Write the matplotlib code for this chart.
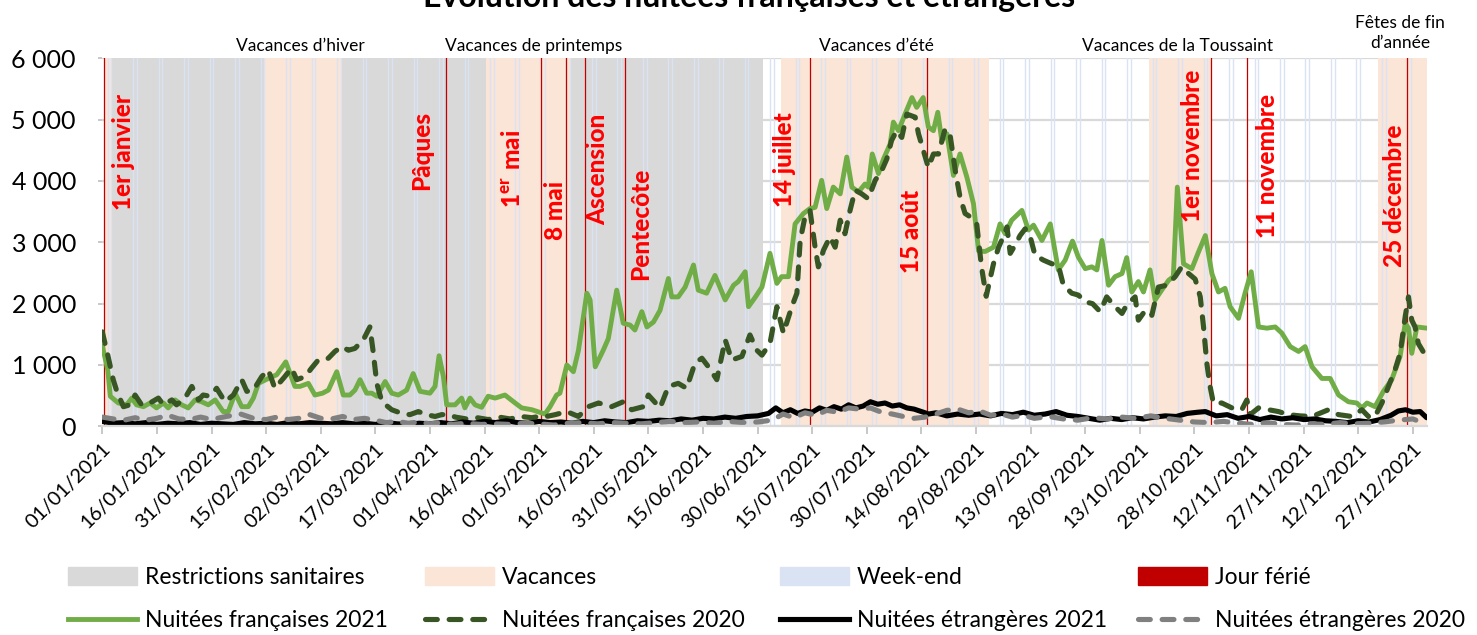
import matplotlib
matplotlib.use('Agg')
import matplotlib.pyplot as plt
import pandas as pd
from matplotlib.patches import Patch
from matplotlib.lines import Line2D

plt.rcParams['font.family'] = ['Lato', 'DejaVu Sans']
plt.rcParams['mathtext.fontset'] = 'custom'
plt.rcParams['mathtext.rm'] = 'Lato'
plt.rcParams['mathtext.bf'] = 'Lato:black'

# ---------------- data (day index from 01/01/2021, value) ----------------
fr21_day = [0, 1.5, 2.2, 4.4, 6.7, 8.1, 9.4, 11.3, 13.1, 14.9, 16.8, 18.1, 20, 21.8, 23.6, 25.5, 27.3, 29.1,
            31, 33.2, 34.6, 36.5, 38.3, 40.1, 41.5, 42.9, 45.6, 47.9, 50.4, 52.9, 54.3, 56.6, 58.4, 60.5,
            62.1, 64.4, 66.2, 68, 69.4, 70.8, 72.6, 74, 75.4, 77.7, 79.5, 81.3, 83.6, 85.4, 87.3, 90, 91.4,
            92.5, 93.7, 94.6, 96.9, 98.7, 99.6, 101, 102.4, 104.2, 106, 107.9, 110.6, 113.4, 115.2, 118,
            121.6, 123, 124.8, 125.7, 127.6, 129.4, 130.8, 133.1, 134, 135.4, 137.6, 139, 141.3, 143.1,
            145, 146.3, 148.2, 149.6, 151.4, 153.2, 155.5, 156.4, 158.2, 160.1, 162.4, 163.7, 166, 168.3,
            171.1, 173.4, 174.7, 176.6, 177.5, 179.3, 181.2, 183.4, 185.3, 186.6, 188.5, 190.3, 192.6,
            194.4, 195.8, 197.6, 199, 200.8, 202.7, 204.5, 205.9, 207.7, 209.5, 210.4, 211.5, 213.2,
            214.6, 216.4, 217.3, 218.7, 220.5, 222.4, 223.7, 225.5, 226.9, 228.3, 229.5, 230.6, 232,
            233.8, 235.6, 237.5, 239.3, 240.7, 242.5, 244.8, 246.6, 248, 249.8, 252.6, 254.4, 255.8,
            258.1, 260.4, 262.6, 264.5, 266.5, 268.1, 270, 271.8, 273.2, 274.6, 276.4, 278.2, 280.1,
            281.4, 282.8, 284.6, 286, 287.8, 289.2, 291, 292.9, 294.2, 295.3, 297, 299.3, 301.1, 303,
            304.8, 306.6, 308.4, 309.8, 312.1, 313.9, 315.6, 317.6, 319.9, 322.2, 324, 326.3, 328.6,
            330.4, 332.3, 335, 337.3, 339.6, 342.3, 344.6, 346, 347.4, 349.6, 351.9, 354.2, 356.5,
            357.9, 358.8, 359.7, 361.1, 363.8]
fr21_val = [1310, 920, 490, 380, 350, 460, 350, 320, 380, 300, 380, 300, 430, 350, 300, 430, 400, 350,
            430, 240, 240, 540, 320, 320, 460, 700, 780, 840, 1050, 650, 650, 700, 510, 540,
            590, 890, 510, 510, 590, 760, 540, 540, 490, 730, 540, 510, 590, 860, 570, 540, 650,
            1150, 810, 350, 350, 460, 300, 460, 350, 310, 490, 460, 510, 380, 300, 270,
            200, 320, 510, 540, 1000, 890, 1240, 2170, 2060, 970, 1240, 1430, 2220, 1680,
            1650, 1570, 1870, 1620, 1700, 1890, 2410, 2110, 2110, 2270, 2630, 2220, 2170, 2460,
            2060, 2300, 2360, 2520, 1950, 2100, 2270, 2820, 2330, 2440, 2440, 3300, 3470,
            3550, 3570, 4010, 3550, 3900, 3790, 4390, 3900, 3820, 3950, 3900, 4440, 4120,
            4360, 4600, 4960, 4820, 5090, 5360, 5200, 5360, 4880, 4820, 5120, 4660, 4770,
            4090, 4440, 4060, 3630, 2860, 2850, 2920, 3300, 3140, 3360, 3520, 3200, 3280,
            3030, 3300, 2550, 2710, 3020, 2760, 2570, 2600, 2550, 3030, 2300, 2440, 2490,
            2750, 2190, 2360, 2190, 2550, 2060, 2220, 2380, 2440, 3900, 2650, 2570, 2840, 3110,
            2490, 2190, 2250, 1950, 1760, 2170, 2520, 1620, 1600, 1620, 1520, 1300, 1220,
            1300, 970, 780, 780, 510, 400, 380, 300, 380, 320, 570, 760, 1140,
            1680, 1600, 1190, 1620, 1600]

fr20_day = [0, 1.6, 3, 4, 5.8, 7.6, 9, 10.8, 13.1, 15.4, 16.8, 19.1, 20.4, 22.7, 24.6, 26.4, 27.7, 29.6,
            31.4, 33.7, 36, 38.3, 39.7, 41.5, 43.8, 45.6, 47.4, 50, 52, 53.4, 55.7, 57.5, 59.3, 60.3,
            62.1, 63.9, 65.8, 67.6, 69.4, 71.7, 73.5, 74.4, 75.4, 76.8, 79.5, 82.3, 84.5, 86.8, 89.1,
            91.4, 93.2, 95.1, 97, 100, 103, 106, 109, 112, 115, 118, 119.8, 122, 124.4, 127.6, 130.8,
            133.5, 136.3, 139.9, 143.1, 145.4, 148.6, 150, 153.2, 155.5, 158.2, 160.5, 162.8, 164.7,
            166.5, 168.8, 171.1, 172.9, 175.7, 177.9, 179.8, 181.2, 183.4, 185.3, 187.1, 189.4, 190.8,
            191.7, 193, 194.4, 195.8, 196.7, 198.1, 199.9, 201.3, 202.7, 204, 205.4, 206.8, 208.6,
            210.4, 212.3, 214.1, 215.5, 216.8, 218.2, 219.6, 221, 223.3, 224.2, 226.9, 228.3, 229.7,
            231.5, 232.9, 234.3, 235.6, 237, 238.8, 240.2, 241.5, 242.8, 244.8, 246.2, 247.5, 248.5,
            249.4, 250.7, 252.1, 253.5, 254.9, 256.2, 258.5, 260.8, 262.6, 264, 266.3, 268.1, 270,
            272, 274.1, 275.9, 278.2, 280.1, 281.4, 283.7, 284.6, 286.5, 288.3, 290.1, 292.4, 294.7,
            296.5, 298.4, 300.2, 301.6, 302.5, 303.4, 304.3, 305.2, 307.5, 310.3, 313, 314.4, 315.3,
            317.6, 320.3, 323.1, 325.8, 329, 332.3, 336.8, 339.6, 343.2, 346, 347.8, 349.5, 351.5,
            353.3, 355.1, 356.5, 357.9, 358.8, 359.7, 360.6, 361.5, 363.8]
fr20_val = [1540, 1135, 760, 570, 320, 350, 510, 350, 380, 460, 350, 430, 350, 460, 650, 430, 510, 490,
            620, 400, 510, 760, 570, 590, 810, 920, 620, 800, 950, 760, 810, 950, 1080, 1080,
            1110, 1220, 1300, 1240, 1270, 1410, 1620, 1220, 700, 400, 270, 210, 190, 240, 190,
            160, 190, 190, 150, 120, 140, 110, 150, 120, 160, 140, 160, 160, 190, 240, 160,
            320, 380, 320, 400, 270, 320, 510, 300, 650, 700, 620, 1030, 1110,
            970, 760, 1410, 1080, 1140, 1490, 1240, 1160, 1350, 1950, 1520, 1950, 2170,
            3030, 3410, 3520, 2920, 2600, 2870, 3090, 2920, 3360, 3140, 3520, 3850, 3790,
            3710, 4010, 4170, 4360, 4660, 4820, 4710, 5090, 5040, 4770, 4220, 4440, 4440,
            4850, 4740, 4170, 3740, 3470, 3400, 3300, 2600, 2120, 2650, 2920, 3090, 3250,
            2820, 2950, 3110, 3220, 3090, 2790, 2710, 2650, 2630, 2300, 2170, 2140, 2030,
            2000, 1870, 2110, 1950, 1840, 1980, 2110, 1730, 1890, 1810, 2270, 2300, 2440,
            2600, 2490, 2400, 2110, 1620, 1030, 650, 380, 380, 300, 270, 430, 190,
            300, 270, 240, 190, 170, 160, 270, 190, 160, 270, 160, 150, 380,
            650, 920, 1190, 1790, 2110, 1730, 1620, 1350, 1120]

et21_day = [0, 3, 6, 9, 12, 15, 18, 21, 24, 27, 30, 33, 36, 39, 42, 45, 48, 51, 54, 57, 60, 63, 66, 69,
            72, 75, 78, 81, 84, 87, 90, 93, 96, 99, 102, 105, 108, 111, 114, 117, 120, 123, 126, 129,
            132, 135, 138, 141, 144, 147, 150, 153, 156, 159, 162, 165, 168, 171, 174, 177, 180, 183,
            185, 187, 189, 191, 193, 195, 197, 199, 201, 203, 205, 207, 209, 211, 213, 215, 217, 219,
            221, 223, 225, 227, 229, 232, 235, 238, 241, 244, 247, 250, 253, 256, 259, 262, 265, 268,
            271, 274, 277, 280, 283, 286, 289, 292, 295, 298, 301, 303, 306, 309, 312, 315, 318, 321,
            324, 327, 330, 333, 336, 339, 342, 345, 348, 351, 354, 356, 358, 360, 362, 363.8]
et21_val = [80, 50, 60, 40, 60, 30, 50, 40, 60, 30, 50, 40, 30, 60, 40, 50, 30, 60, 40, 60, 50, 40, 60, 40,
            50, 30, 60, 40, 30, 50, 40, 60, 40, 70, 50, 80, 60, 90, 60, 50, 80, 60, 70, 50,
            80, 60, 90, 70, 60, 90, 80, 100, 90, 120, 100, 130, 120, 150, 130, 160, 170, 210,
            300, 220, 270, 210, 250, 230, 300, 260, 320, 280, 350, 300, 330, 400, 360, 380, 330, 350,
            300, 280, 240, 200, 220, 170, 200, 180, 200, 170, 210, 190, 230, 180, 200, 240, 180, 160,
            130, 100, 130, 110, 140, 120, 150, 170, 160, 210, 230, 240, 170, 190, 130, 160, 110, 150,
            120, 140, 110, 120, 90, 80, 60, 90, 70, 110, 180, 250, 270, 230, 240, 140]

et20_day = [0, 3, 6, 9, 12, 15, 18, 21, 24, 27, 30, 34, 38, 42, 45, 48, 51, 54, 57, 60, 63, 66, 69, 72,
            75, 78, 81, 84, 87, 90, 93, 96, 100, 104, 108, 112, 116, 120, 124, 128, 132, 136, 140, 144,
            148, 152, 156, 160, 164, 168, 172, 176, 180, 184, 187, 190, 193, 196, 199, 202, 205, 208,
            211, 214, 217, 220, 223, 226, 229, 232, 235, 238, 241, 244, 247, 250, 253, 256, 260, 264,
            268, 272, 276, 280, 284, 288, 292, 296, 300, 304, 308, 312, 316, 320, 324, 328, 332, 336,
            340, 344, 348, 352, 356, 360, 363.8]
et20_val = [150, 120, 100, 140, 100, 130, 180, 120, 110, 150, 110, 160, 200, 120, 110, 150, 110, 130, 190,
            130, 120, 160, 110, 130, 100, 60, 80, 50, 70, 40, 60, 30, 50, 30, 40, 30, 50, 40, 20, 50,
            60, 40, 60, 50, 40, 60, 80, 60, 70, 50, 80, 60, 70, 100, 200, 140, 220, 180, 260, 230,
            300, 280, 300, 230, 200, 160, 130, 150, 200, 260, 280, 220, 250, 180, 200, 150, 180, 130,
            160, 120, 100, 140, 120, 150, 130, 170, 130, 100, 70, 60, 80, 50, 30, 60, 30, 20, 40, 30,
            60, 40, 50, 70, 100, 120, 30]

tick_labels = ['01/01/2021', '16/01/2021', '31/01/2021', '15/02/2021', '02/03/2021', '17/03/2021',
               '01/04/2021', '16/04/2021', '01/05/2021', '16/05/2021', '31/05/2021', '15/06/2021',
               '30/06/2021', '15/07/2021', '30/07/2021', '14/08/2021', '29/08/2021', '13/09/2021',
               '28/09/2021', '13/10/2021', '28/10/2021', '12/11/2021', '27/11/2021', '12/12/2021',
               '27/12/2021']
y_labels = ['0', '1 000', '2 000', '3 000', '4 000', '5 000', '6 000']

restrictions = [('2021-01-03', '2021-07-01')]
vacances = [('2021-01-01', '2021-01-03'), ('2021-02-14', '2021-03-07'), ('2021-04-16', '2021-05-09'),
            ('2021-07-06', '2021-09-01'), ('2021-10-15', '2021-11-01'), ('2021-12-17', '2021-12-31')]
feries = ['2021-01-01', '2021-04-05', '2021-05-01', '2021-05-08', '2021-05-13', '2021-05-24',
          '2021-07-14', '2021-08-15', '2021-11-01', '2021-11-11', '2021-12-25']
ferie_labels = ['1er janvier', 'Pâques', r'$\mathbf{1^{er}\ mai}$', '8 mai', 'Ascension', 'Pentecôte',
                '14 juillet', '15 août', '1er novembre', '11 novembre', '25 décembre']
# label placement (x in days, bottom y in data units)
ferie_lab_x = [5.9, 87.6, 112.8, 124.6, 136.2, 148.0, 187.3, 222.2, 299.6, 320.2, 354.9]
ferie_lab_y = [3520, 3846, 3553, 3033, 3276, 2382, 3569, 2496, 3325, 3065, 2593]

C_RESTR = '#d9d9d9'
C_VAC = '#fbe5d6'
C_WE = '#dae3f3'
C_JF = '#c00000'
C_FR21 = '#70ad47'
C_FR20 = '#375623'
C_ET21 = '#000000'
C_ET20 = '#808080'
DASH = (2.3, 2.3)

start = pd.Timestamp('2021-01-01')
def doy(s):
    return (pd.Timestamp(s) - start).days

W, H = 1477, 635
fig = plt.figure(figsize=(W / 100, H / 100), dpi=100)
ax = fig.add_axes([102.3 / W, 1 - 426.3 / H, (1426.7 - 102.3) / W, 368.0 / H])
ax.set_xlim(0, 363.8)
ax.set_ylim(0, 6000)

# grid
ax.set_axisbelow(True)
ax.set_yticks(range(0, 6001, 1000))
ax.set_yticklabels(y_labels)
ax.yaxis.grid(True, color='#d9d9d9', lw=1.6)

# bands
for s, e in restrictions:
    ax.axvspan(doy(s) + 0.5, doy(e) + 0.5, color=C_RESTR, lw=0, zorder=1)
for s, e in vacances:
    ax.axvspan(doy(s) + 0.5, doy(e) + 0.5, color=C_VAC, lw=0, zorder=1.1)
for d in pd.date_range('2021-01-01', '2021-12-31'):
    if d.dayofweek >= 5:
        ax.axvline((d - start).days + 0.5, color=C_WE, lw=1.0, zorder=2)
for f in feries:
    ax.axvline(doy(f) + 0.5, color=C_JF, lw=0.9, zorder=3)

# series
ax.plot(fr21_day, fr21_val, color=C_FR21, lw=3.5, solid_joinstyle='round', solid_capstyle='round', zorder=4)
ax.plot(fr20_day, fr20_val, color=C_FR20, lw=3.7, dashes=DASH, dash_capstyle='round',
        dash_joinstyle='round', zorder=5)
ax.plot(et21_day, et21_val, color=C_ET21, lw=3.7, solid_joinstyle='round', solid_capstyle='round', zorder=6)
ax.plot(et20_day, et20_val, color=C_ET20, lw=3.7, dashes=DASH, dash_capstyle='round',
        dash_joinstyle='round', zorder=7)

for lab, x, y in zip(ferie_labels, ferie_lab_x, ferie_lab_y):
    ax.text(x, y, lab, rotation=90, ha='center', va='bottom', color='#ff0000', fontsize=17.5,
            fontweight='black', zorder=9)

# axes styling
for sp in ['top', 'right', 'left']:
    ax.spines[sp].set_visible(False)
ax.spines['bottom'].set_color('#d9d9d9')
ax.spines['bottom'].set_linewidth(1.6)
ax.spines['bottom'].set_zorder(8)
ax.set_xticks(range(0, 361, 15))
ax.set_xticklabels(tick_labels, rotation=45, ha='right', rotation_mode='anchor', fontsize=14.5)
ax.tick_params(axis='x', length=6, width=1.2, color='#bfbfbf', pad=4)
ax.tick_params(axis='y', length=3, width=1.2, color='#bfbfbf', pad=16, labelsize=18)

# top annotations
tops = [('Vacances d’hiver', 300, 46), ('Vacances de printemps', 534, 46), ('Vacances d’été', 876, 46),
        ('Vacances de la Toussaint', 1177, 46), ('Fêtes de fin\nd’année', 1400, 33)]
for t, x, y in tops:
    fig.text(x / W, 1 - y / H, t, ha='center', va='center', fontsize=12.5, linespacing=1.3)

fig.text(749 / W, 1 - 7 / H, 'Évolution des nuitées françaises et étrangères', ha='center',
         va='baseline', fontsize=23, fontweight='bold')

# legend: four columns of two entries each
leg_cols = [
    (68, [Patch(color=C_RESTR), Line2D([], [], color=C_FR21, lw=3.5)],
     ['Restrictions sanitaires', 'Nuitées françaises 2021']),
    (425, [Patch(color=C_VAC), Line2D([], [], color=C_FR20, lw=3.7, dashes=DASH, dash_capstyle='round')],
     ['Vacances', 'Nuitées françaises 2020']),
    (780, [Patch(color=C_WE), Line2D([], [], color=C_ET21, lw=3.7)],
     ['Week-end', 'Nuitées étrangères 2021']),
    (1138, [Patch(color=C_JF), Line2D([], [], color=C_ET20, lw=3.7, dashes=DASH, dash_capstyle='round')],
     ['Jour férié', 'Nuitées étrangères 2020']),
]
for x, hs, ls in leg_cols:
    fig.legend(hs, ls, loc='upper left', bbox_to_anchor=(x / W, 1 - 567 / H), ncol=1,
               frameon=False, borderpad=0, borderaxespad=0, handlelength=3.0, handleheight=0.8,
               handletextpad=0.35, labelspacing=0.98, fontsize=16.5)

fig.savefig('out.png', dpi=100)
